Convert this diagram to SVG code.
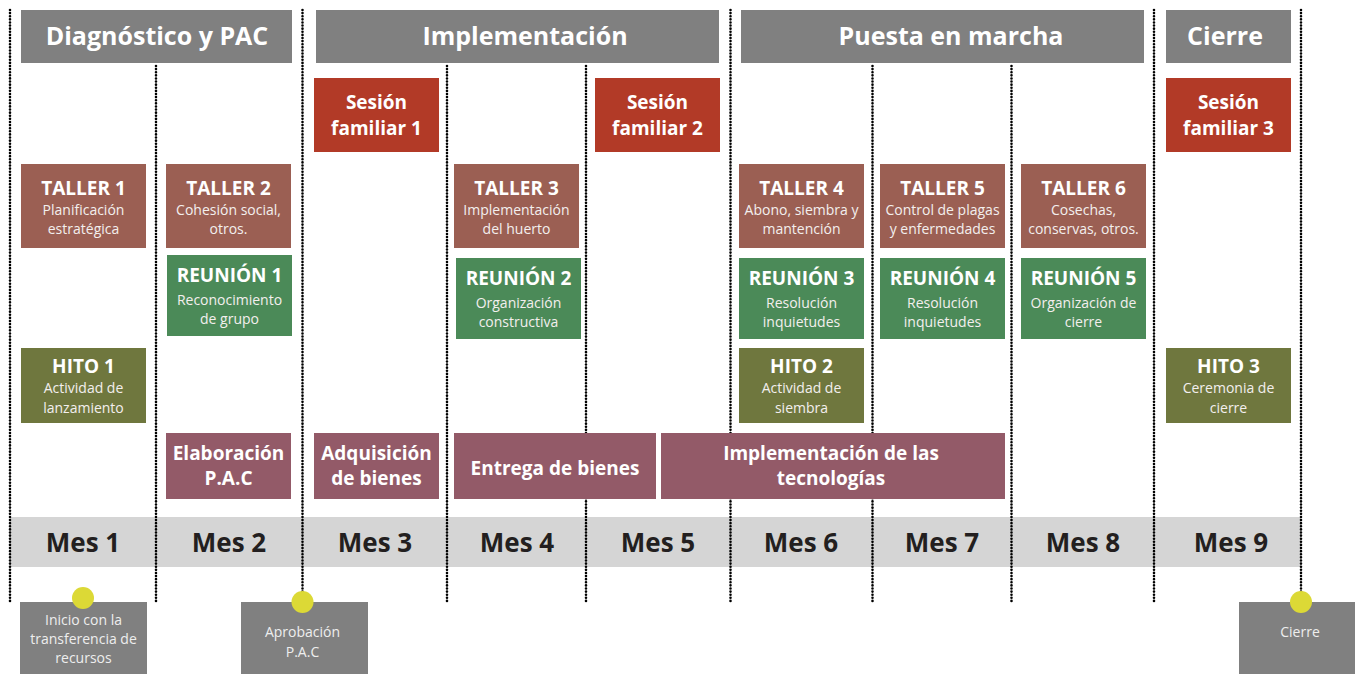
<svg xmlns="http://www.w3.org/2000/svg" width="1355" height="674" viewBox="0 0 1355 674">
<style>
text{font-family:"Open Sans","Noto Sans","DejaVu Sans",sans-serif;text-anchor:middle}
.hdr{fill:#808080}
.ht{font-size:25px;font-weight:700;fill:#fff}
.ses{fill:#b23a27}
.tal{fill:#9b5f53}
.reu{fill:#4b8a58}
.hit{fill:#6f773e}
.pur{fill:#935a68}
.t{font-size:19px;font-weight:700;fill:#fff}
.s{font-size:14px;fill:#f3efee}
.mes{font-size:26px;font-weight:700;fill:#231f20}
.dot{stroke:#000;stroke-width:2.6;stroke-linecap:round;stroke-dasharray:0.01 3.1;fill:none}
.mk{fill:#dcd936}
.gb{fill:#808080}
.gt{font-size:14px;fill:#eeeeee}
</style>

<rect x="10" y="517" width="1291" height="50" fill="#d5d5d5"/>

<g id="connectors">
<line class="dot" x1="10" y1="10" x2="10" y2="602"/>
<line class="dot" x1="156" y1="66" x2="156" y2="602"/>
<line class="dot" x1="302.5" y1="10" x2="302.5" y2="600"/>
<line class="dot" x1="447" y1="66" x2="447" y2="602"/>
<line class="dot" x1="586" y1="66" x2="586" y2="602"/>
<line class="dot" x1="730.5" y1="10" x2="730.5" y2="602"/>
<line class="dot" x1="872.5" y1="66" x2="872.5" y2="602"/>
<line class="dot" x1="1011.5" y1="66" x2="1011.5" y2="602"/>
<line class="dot" x1="1154" y1="10" x2="1154" y2="602"/>
<line class="dot" x1="1301" y1="10" x2="1301" y2="600"/>
</g>

<g id="hdr-diag"><rect class="hdr" x="21" y="10" width="271" height="53"/><text class="ht" x="157" y="45">Diagnóstico y PAC</text></g>
<g id="hdr-impl"><rect class="hdr" x="316" y="10" width="403" height="53"/><text class="ht" x="525" y="45">Implementación</text></g>
<g id="hdr-puesta"><rect class="hdr" x="741" y="10" width="403" height="53"/><text class="ht" x="951" y="45">Puesta en marcha</text></g>
<g id="hdr-cierre"><rect class="hdr" x="1166" y="10" width="125" height="53"/><text class="ht" x="1225" y="45">Cierre</text></g>

<g id="sesion1"><rect class="ses" x="314" y="78" width="125" height="74"/><text class="t" x="376.5" y="109">Sesión</text><text class="t" x="376.5" y="135">familiar 1</text></g>
<g id="sesion2"><rect class="ses" x="595" y="78" width="125" height="74"/><text class="t" x="657.5" y="109">Sesión</text><text class="t" x="657.5" y="135">familiar 2</text></g>
<g id="sesion3"><rect class="ses" x="1166" y="78" width="125" height="74"/><text class="t" x="1228.5" y="109">Sesión</text><text class="t" x="1228.5" y="135">familiar 3</text></g>

<g id="taller1"><rect class="tal" x="21" y="164" width="125" height="84"/><text class="t" x="83.5" y="195">TALLER 1</text><text class="s" x="83.5" y="215">Planificación</text><text class="s" x="83.5" y="234">estratégica</text></g>
<g id="taller2"><rect class="tal" x="166" y="164" width="125" height="84"/><text class="t" x="228.5" y="195">TALLER 2</text><text class="s" x="228.5" y="215">Cohesión social,</text><text class="s" x="228.5" y="234">otros.</text></g>
<g id="taller3"><rect class="tal" x="454" y="164" width="125" height="84"/><text class="t" x="516.5" y="195">TALLER 3</text><text class="s" x="516.5" y="215">Implementación</text><text class="s" x="516.5" y="234">del huerto</text></g>
<g id="taller4"><rect class="tal" x="739" y="164" width="125" height="84"/><text class="t" x="801.5" y="195">TALLER 4</text><text class="s" x="801.5" y="215">Abono, siembra y</text><text class="s" x="801.5" y="234">mantención</text></g>
<g id="taller5"><rect class="tal" x="880" y="164" width="125" height="84"/><text class="t" x="942.5" y="195">TALLER 5</text><text class="s" x="942.5" y="215">Control de plagas</text><text class="s" x="942.5" y="234">y enfermedades</text></g>
<g id="taller6"><rect class="tal" x="1021" y="164" width="125" height="84"/><text class="t" x="1083.5" y="195">TALLER 6</text><text class="s" x="1083.5" y="215">Cosechas,</text><text class="s" x="1083.5" y="234">conservas, otros.</text></g>

<g id="reunion1"><rect class="reu" x="167" y="255" width="125" height="81"/><text class="t" x="229.5" y="282">REUNIÓN 1</text><text class="s" x="229.5" y="305">Reconocimiento</text><text class="s" x="229.5" y="324">de grupo</text></g>
<g id="reunion2"><rect class="reu" x="456" y="258" width="125" height="81"/><text class="t" x="518.5" y="285">REUNIÓN 2</text><text class="s" x="518.5" y="308">Organización</text><text class="s" x="518.5" y="327">constructiva</text></g>
<g id="reunion3"><rect class="reu" x="739" y="258" width="125" height="81"/><text class="t" x="801.5" y="285">REUNIÓN 3</text><text class="s" x="801.5" y="308">Resolución</text><text class="s" x="801.5" y="327">inquietudes</text></g>
<g id="reunion4"><rect class="reu" x="880" y="258" width="125" height="81"/><text class="t" x="942.5" y="285">REUNIÓN 4</text><text class="s" x="942.5" y="308">Resolución</text><text class="s" x="942.5" y="327">inquietudes</text></g>
<g id="reunion5"><rect class="reu" x="1021" y="258" width="125" height="81"/><text class="t" x="1083.5" y="285">REUNIÓN 5</text><text class="s" x="1083.5" y="308">Organización de</text><text class="s" x="1083.5" y="327">cierre</text></g>

<g id="hito1"><rect class="hit" x="21" y="348" width="125" height="75"/><text class="t" x="83.5" y="373">HITO 1</text><text class="s" x="83.5" y="393">Actividad de</text><text class="s" x="83.5" y="413">lanzamiento</text></g>
<g id="hito2"><rect class="hit" x="739" y="348" width="125" height="75"/><text class="t" x="801.5" y="373">HITO 2</text><text class="s" x="801.5" y="393">Actividad de</text><text class="s" x="801.5" y="413">siembra</text></g>
<g id="hito3"><rect class="hit" x="1166" y="348" width="125" height="75"/><text class="t" x="1228.5" y="373">HITO 3</text><text class="s" x="1228.5" y="393">Ceremonia de</text><text class="s" x="1228.5" y="413">cierre</text></g>

<g id="elaboracion"><rect class="pur" x="166" y="433" width="125" height="66"/><text class="t" x="228.5" y="460">Elaboración</text><text class="t" x="228.5" y="485">P.A.C</text></g>
<g id="adquisicion"><rect class="pur" x="314" y="433" width="125" height="66"/><text class="t" x="376.5" y="460">Adquisición</text><text class="t" x="376.5" y="485">de bienes</text></g>
<g id="entrega"><rect class="pur" x="454" y="433" width="202" height="66"/><text class="t" x="555" y="475">Entrega de bienes</text></g>
<g id="implementacion"><rect class="pur" x="661" y="433" width="344" height="66"/><text class="t" x="831" y="460">Implementación de las</text><text class="t" x="831" y="485">tecnologías</text></g>

<g id="meses">
<text class="mes" x="83" y="552">Mes 1</text>
<text class="mes" x="229" y="552">Mes 2</text>
<text class="mes" x="375" y="552">Mes 3</text>
<text class="mes" x="517" y="552">Mes 4</text>
<text class="mes" x="658" y="552">Mes 5</text>
<text class="mes" x="801" y="552">Mes 6</text>
<text class="mes" x="942" y="552">Mes 7</text>
<text class="mes" x="1083" y="552">Mes 8</text>
<text class="mes" x="1231" y="552">Mes 9</text>
</g>

<g id="inicio"><rect class="gb" x="20" y="602" width="127" height="72"/><circle class="mk" cx="83" cy="598" r="11"/><text class="gt" x="83.5" y="625">Inicio con la</text><text class="gt" x="83.5" y="644">transferencia de</text><text class="gt" x="83.5" y="663">recursos</text></g>
<g id="aprobacion"><rect class="gb" x="241" y="602" width="127" height="72"/><circle class="mk" cx="302.5" cy="602" r="11"/><text class="gt" x="302.5" y="637">Aprobación</text><text class="gt" x="302.5" y="657">P.A.C</text></g>
<g id="cierre"><rect class="gb" x="1239" y="602" width="116" height="72"/><circle class="mk" cx="1301" cy="602" r="11"/><text class="gt" x="1300" y="637">Cierre</text></g>
</svg>
